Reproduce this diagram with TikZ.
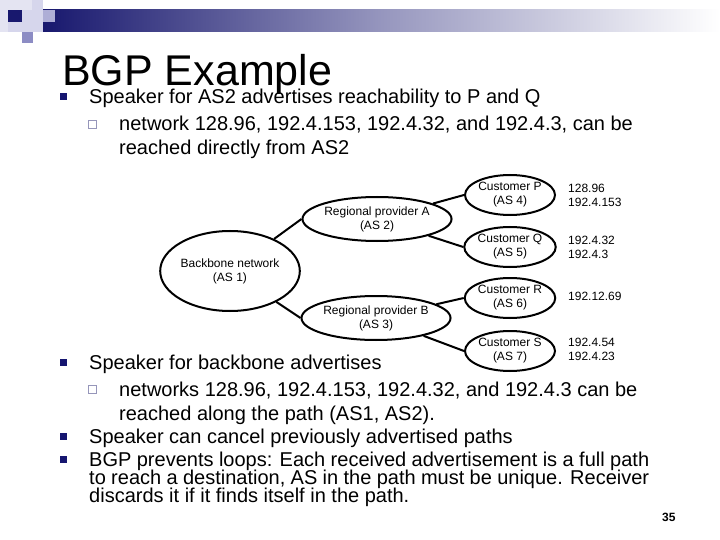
\documentclass[tikz,border=0pt]{standalone}
\usepackage{fontspec}
\setmainfont{Liberation Sans}
\usetikzlibrary{shapes.geometric, positioning}
\definecolor{hdnavy}{RGB}{24, 24, 110}
\definecolor{hdmid}{RGB}{150, 150, 190}
\definecolor{sqlight}{RGB}{214, 214, 236}
\definecolor{sqpale}{RGB}{228, 228, 242}
\definecolor{sqmid}{RGB}{140, 140, 196}
\definecolor{bulletnavy}{RGB}{22, 22, 112}
\definecolor{subgray}{RGB}{150, 150, 186}
\tikzset{
    bodytext/.style={anchor=base west, inner sep=0pt, font=\fontsize{20}{24}\selectfont},
    asnode/.style={draw, ellipse, line width=2pt, inner sep=0pt, align=center, font=\fontsize{12}{14}\selectfont},
    bbnode/.style={asnode, minimum width=136pt, minimum height=80pt},
    rpnode/.style={asnode, minimum width=132pt, minimum height=44pt},
    custnode/.style={asnode, minimum width=90pt, minimum height=40pt},
    netlabel/.style={anchor=west, align=left, inner sep=0pt, font=\fontsize{12}{14}\selectfont},
    link/.style={line width=2pt},
    bulletbox/.style={fill=bulletnavy, minimum size=7pt, inner sep=0pt},
    subbox/.style={draw=subgray, line width=0.9pt, minimum size=8pt, inner sep=0pt},
}

\begin{document}
\begin{tikzpicture}[x=1pt, y=-1pt]
    \useasboundingbox (0,0) rectangle (720,540);

    % header bar and squares
    \shade[left color=hdnavy, right color=white, middle color=hdmid] (43,10) rectangle (720,32);
    \fill[sqpale] (0,0) rectangle (8,32);
    \fill[sqpale] (8,0) rectangle (32,10);
    \fill[sqlight] (32,0) rectangle (43,10);
    \fill[hdnavy] (8,10) rectangle (22,22);
    \fill[sqlight] (8,22) rectangle (22,32);
    \fill[sqlight] (22,10) rectangle (43,32);
    \fill[sqmid!70] (43,10) rectangle (55,22);
    \fill[sqmid] (22,32) rectangle (33,43);

    % title
    \node[anchor=base west, inner sep=0pt, font=\fontsize{43}{48}\selectfont] (title) at (62,86) {BGP Example};

    % top bullets
    \node[bulletbox] (b1) at (63,97) {};
    \node[bodytext] (t1) at (89,104) {Speaker for AS2 advertises reachability to P and Q};
    \node[subbox] (s1) at (92,124) {};
    \node[bodytext] (t1a) at (119,131) {network 128.96, 192.4.153, 192.4.32, and 192.4.3, can be};
    \node[bodytext] (t1b) at (119,155) {reached directly from AS2};

    % AS graph
    \node[bbnode] (bb) at (230,271) {Backbone network\\(AS 1)};
    \node[rpnode] (rpA) at (377,219) {Regional provider A\\(AS 2)};
    \node[rpnode] (rpB) at (376,318) {Regional provider B\\(AS 3)};
    \node[custnode] (cP) at (510,195) {Customer P\\(AS 4)};
    \node[custnode] (cQ) at (510,247) {Customer Q\\(AS 5)};
    \node[custnode] (cR) at (510,298) {Customer R\\(AS 6)};
    \node[custnode] (cS) at (510,351) {Customer S\\(AS 7)};

    \node[netlabel] (nP) at (568,195) {128.96\\192.4.153};
    \node[netlabel] (nQ) at (568,247) {192.4.32\\192.4.3};
    \node[netlabel] (nR) at (568,296) {192.12.69};
    \node[netlabel] (nS) at (568,349) {192.4.54\\192.4.23};

    \draw[link] (bb) -- (rpA.west);
    \draw[link] (bb) -- (rpB.west);
    \draw[link] (rpA) -- (cP.west);
    \draw[link] (rpA) -- (cQ.west);
    \draw[link] (rpB) -- (cR.west);
    \draw[link] (rpB) -- (cS.west);

    % bottom bullets
    \node[bulletbox] (b2) at (63,362) {};
    \node[bodytext] (t2) at (89,369) {Speaker for backbone advertises};
    \node[subbox] (s2) at (92,389) {};
    \node[bodytext] (t2a) at (119,396) {networks 128.96, 192.4.153, 192.4.32, and 192.4.3 can be};
    \node[bodytext] (t2b) at (119,420) {reached along the path (AS1, AS2).};
    \node[bulletbox] (b3) at (63,436) {};
    \node[bodytext] (t3) at (89,443) {Speaker can cancel previously advertised paths};
    \node[bulletbox] (b4) at (63,459) {};
    \node[bodytext] (t4) at (89,466) {\makebox[560pt][s]{BGP prevents loops: Each received advertisement is a full path}};
    \node[bodytext] (t4a) at (89,484) {\makebox[560pt][s]{to reach a destination, AS in the path must be unique. Receiver}};
    \node[bodytext] (t4b) at (89,502) {discards it if it finds itself in the path.};

    % page number
    \node[anchor=base west, inner sep=0pt, font=\fontsize{12}{14}\selectfont\bfseries] (pg) at (662,521) {35};
\end{tikzpicture}
\end{document}
